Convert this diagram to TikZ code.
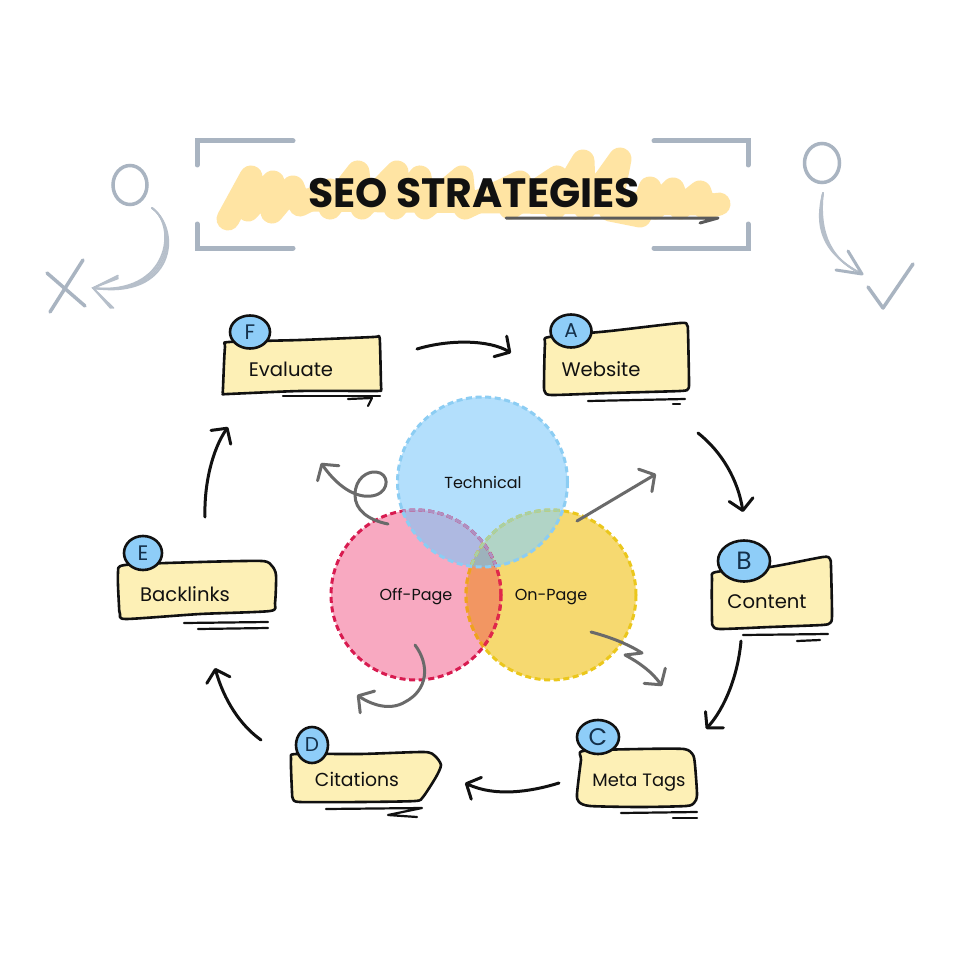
\documentclass[tikz,border=0pt]{standalone}
\usepackage{fontspec}
\setmainfont{Poppins}
\usetikzlibrary{arrows.meta,shapes.geometric}
\definecolor{inkc}{HTML}{111111}
\definecolor{greyc}{HTML}{6A6A6A}
\definecolor{slatec}{HTML}{A9B4C1}
\definecolor{boxc}{HTML}{FDF0B6}
\definecolor{badgec}{HTML}{8ECDF8}
\definecolor{badgetx}{HTML}{14304A}
\definecolor{scribc}{HTML}{FFE4A3}
\definecolor{bluef}{HTML}{B3DFFC}
\definecolor{pinkf}{HTML}{F8A9C1}
\definecolor{yelf}{HTML}{F6D970}
\definecolor{bpf}{HTML}{AEB9E1}
\definecolor{byf}{HTML}{B1D4C6}
\definecolor{pyf}{HTML}{F29662}
\definecolor{allf}{HTML}{9DB2BC}
\definecolor{lineyel}{HTML}{EBC71C}
\definecolor{linepink}{HTML}{D81B50}
\definecolor{lineorange}{HTML}{F0A020}
\definecolor{linered}{HTML}{E0284A}
\definecolor{linepurple}{HTML}{AF90C2}
\definecolor{linegreen}{HTML}{A8D0A4}
\definecolor{lineblue}{HTML}{8CCDF3}
\tikzset{
 x=1pt,y=-1pt,
 boxshape/.style={draw=inkc,fill=boxc,line width=2.6pt,line join=round},
 badge/.style={ellipse,draw=inkc,fill=badgec,line width=2.6pt,inner sep=0pt,text=badgetx},
 boxtext/.style={text=inkc,inner sep=0pt,anchor=base,font=\fontsize{19.6}{22}\selectfont},
 venntext/.style={text=inkc,inner sep=0pt,anchor=base,font=\fontsize{16}{18}\selectfont},
 underl/.style={draw=inkc,line width=2.2pt,line cap=round,line join=round},
 flowarrow/.style={draw=inkc,line width=3pt,line cap=round,-{Straight Barb[length=11pt,width=24pt,round]}},
 greyarrow/.style={draw=greyc,line width=3pt,line cap=round,line join=round,-{Straight Barb[length=11pt,width=26pt,round]}},
 bracket/.style={draw=slatec,line width=5pt,line cap=round,line join=miter},
 sketch/.style={draw=slatec,line width=3.5pt,line cap=round,line join=round},
 vdash/.style={line width=3pt,dash pattern=on 6pt off 3.6pt},
}
\begin{document}
\begin{tikzpicture}
\useasboundingbox (0,0) rectangle (960,960);
\fill[white] (0,0) rectangle (960,960);

% title scribble
\draw[scribc,line width=23pt,line cap=round,line join=round]
 (228,219) -- (251,177) -- (248,210) -- (273,182) -- (272,212) -- (293,187) -- (300,205) -- (330,190) -- (330,208) -- (358,172) -- (362,208) -- (397,172) -- (395,208) -- (420,177) -- (425,208) -- (462,177) -- (465,208) -- (520,182) -- (510,208) -- (557,177) -- (555,208) -- (583,161) -- (585,208) -- (620,159) -- (610,210) -- (640,216) -- (650,188) -- (655,208) -- (673,189) -- (680,208) -- (700,192) -- (705,208) -- (719,204);
\draw[scribc,line width=23pt,line cap=round] (300,200) -- (710,204);
\node[inner sep=0pt,anchor=base,text=inkc,font=\bfseries\fontsize{41}{46}\selectfont] (title) at (474,207) {SEO STRATEGIES};
\coordinate (ulS) at (506,218); \coordinate (ulE) at (718,218); \coordinate (ulB) at (700,223);
\draw[draw=greyc!85!black,line width=3pt,line cap=round,line join=round] (ulS) -- (ulE) -- (ulB);

% brackets
\draw[bracket] (293,141) -- (197,141) -- (197,165);
\draw[bracket] (197,224) -- (197,248) -- (293,248);
\draw[bracket] (654,141) -- (748,141) -- (748,165);
\draw[bracket] (748,224) -- (748,248) -- (654,248);

% left sketch
\node[ellipse,draw=slatec,line width=3.5pt,minimum width=34pt,minimum height=39pt,inner sep=0pt] (leftO) at (130,185) {};
\coordinate (laS) at (152,208); \coordinate (laE) at (93,288);
\foreach \o in {-2.4,-0.8,0.8,2.4}{
 \draw[slatec!85,line width=1.7pt,line cap=round] (laS) .. controls (180+\o,228+\o) and (172+\o,298+\o) .. (laE);}
\foreach \o in {-1.5,0,1.5}{
 \draw[slatec!85,line width=1.6pt,line cap=round] (118,277+\o) -- (laE) -- (112+\o,308);}
\draw[sketch] (47,273) -- (85,306);
\draw[sketch] (83,260) -- (50,312);

% right sketch
\node[ellipse,draw=slatec,line width=3.5pt,minimum width=35pt,minimum height=39pt,inner sep=0pt] (rightO) at (822,163) {};
\coordinate (raS) at (823,193); \coordinate (raE) at (862,274);
\coordinate (raB1) at (848,251); \coordinate (raB2) at (836,270);
\foreach \o in {-2.4,-0.8,0.8,2.4}{
 \draw[slatec!85,line width=1.7pt,line cap=round] (raS) .. controls (817+\o,225) and (823+\o,255+\o) .. (raE);}
\draw[sketch,line width=3pt] (raB1) -- (raE) -- (raB2);
\draw[sketch] (868,287) -- (883,308) -- (913,264);

% venn
\def\tecC{(482.5,482) circle [radius=85]}
\def\offC{(416,595) circle [radius=85]}
\def\onC{(551,595) circle [radius=85]}
\fill[bluef] \tecC;
\fill[yelf] \onC;
\fill[pinkf] \offC;
\begin{scope}\clip \tecC; \fill[bpf] \offC; \fill[byf] \onC; \end{scope}
\begin{scope}\clip \offC; \fill[pyf] \onC; \end{scope}
\begin{scope}\clip \tecC; \clip \offC; \fill[allf] \onC; \end{scope}
\draw[vdash,draw=lineyel] \onC;
\draw[vdash,draw=linepink] \offC;
\begin{scope}\clip \offC; \draw[vdash,draw=lineorange] \onC; \end{scope}
\begin{scope}\clip \onC; \draw[vdash,draw=linered] \offC; \end{scope}
\begin{scope}\clip \tecC; \draw[vdash,draw=linepurple] \offC; \draw[vdash,draw=linegreen] \onC; \end{scope}
\draw[vdash,draw=lineblue] \tecC;
\node[venntext] (tech) at (483,488) {Technical};
\node[venntext] (off) at (416,600) {Off-Page};
\node[venntext] (on) at (551,600) {On-Page};

% grey arrows
\coordinate (g1S) at (388,524); \coordinate (g1E) at (321,463);
\draw[greyarrow] (g1S) .. controls (368,520) and (355,510) .. (355,495) .. controls (355,478) and (368,471) .. (376,472) .. controls (389,473) and (390,490) .. (376,495) .. controls (360,500) and (340,490) .. (g1E);
\coordinate (g2S) at (577,521); \coordinate (g2E) at (656,474);
\draw[greyarrow] (g2S) -- (g2E);
\coordinate (g3S) at (591,632); \coordinate (g3M) at (642,653); \coordinate (g3N) at (625,655); \coordinate (g3E) at (662,686);
\draw[greyarrow] (g3S) .. controls (610,637) and (628,644) .. (g3M) -- (g3N) .. controls (640,663) and (652,672) .. (g3E);
\coordinate (g4S) at (415,645); \coordinate (g4E) at (357,695);
\draw[greyarrow] (g4S) .. controls (430,665) and (428,690) .. (405,702) .. controls (390,711) and (372,705) .. (g4E);

% boxes
\draw[boxshape] plot[smooth cycle,tension=0.4] coordinates {(225,347) (229,342) (300,340) (373,337) (379,336) (380,344) (381,385) (381,390) (375,391) (300,391) (228,394) (223,394) (223,388)};
\node[boxtext] (evaluate) at (291,376) {Evaluate};
\node[badge,minimum width=40pt,minimum height=33pt,font=\fontsize{21}{24}\selectfont] (bF) at (250,332) {F};
\draw[underl] (283,396) -- (380,396);
\draw[underl] (348,399) -- (372,398) -- (368,406);

\draw[boxshape] plot[smooth cycle,tension=0.4] coordinates {(545,344) (549,337) (610,331) (680,323) (687,325) (688,332) (689,382) (688,389) (680,391) (610,393) (552,395) (545,392) (544,385)};
\node[boxtext] (website) at (601,376) {Website};
\node[badge,minimum width=41pt,minimum height=33pt,font=\fontsize{20}{24}\selectfont] (bA) at (571,331) {A};
\draw[underl] (588,401) -- (685,399);
\draw[underl] (673,404) -- (680,404);

\draw[boxshape] plot[smooth cycle,tension=0.4] coordinates {(712,580) (716,572) (770,567) (823,557) (830,559) (831,567) (832,616) (830,623) (822,625) (770,627) (720,629) (713,626) (712,620)};
\node[boxtext] (content) at (767,608) {Content};
\node[badge,minimum width=52pt,minimum height=41pt,font=\fontsize{25}{28}\selectfont] (bB) at (744,561) {B};
\draw[underl] (743,635) -- (828,634);
\draw[underl] (797,641) -- (820,640);

\draw[boxshape] plot[smooth cycle,tension=0.4] coordinates {(581,760) (583,751) (640,749) (684,749) (693,755) (695,765) (697,795) (694,803) (686,806) (640,807) (590,806) (579,802) (577,794)};
\node[boxtext,font=\fontsize{17.9}{22}\selectfont] (meta) at (639,786) {Meta Tags};
\node[badge,minimum width=42pt,minimum height=34pt,font=\fontsize{24}{26}\selectfont] (bC) at (598,737) {C};
\draw[underl] (621,813) -- (697,812);
\draw[underl] (673,818) -- (697,818);

\draw[boxshape] plot[smooth cycle,tension=0.4] coordinates {(291,759) (296,754) (360,754) (424,752) (435,756) (441,765) (436,777) (423,797) (415,801) (360,802) (300,802) (293,799) (292,792)};
\node[boxtext,font=\fontsize{18.8}{22}\selectfont] (citations) at (357,786) {Citations};
\node[badge,minimum width=32pt,minimum height=36pt,font=\fontsize{20}{24}\selectfont] (bD) at (312,745) {D};
\draw[underl] (326,809) -- (422,808) -- (388,815) -- (417,817);

\draw[boxshape] plot[smooth cycle,tension=0.4] coordinates {(118,573) (125,565) (200,562) (262,561) (272,566) (276,575) (275,603) (270,611) (200,614) (126,619) (120,614) (119,606)};
\node[boxtext] (backlinks) at (185,601) {Backlinks};
\node[badge,minimum width=38pt,minimum height=34pt,font=\fontsize{21}{24}\selectfont] (bE) at (143,553) {E};
\draw[underl] (184,623) -- (268,622);
\draw[underl] (198,629) -- (268,628);

% flow arrows
\coordinate (fa1) at (417,349); \coordinate (fa2) at (511,353);
\draw[flowarrow] (fa1) .. controls (450,339) and (490,340) .. (fa2);
\coordinate (ab1) at (698,433); \coordinate (ab2) at (743,512);
\draw[flowarrow] (ab1) .. controls (722,452) and (738,480) .. (ab2);
\coordinate (bc1) at (741,641); \coordinate (bc2) at (706,729);
\draw[flowarrow] (bc1) .. controls (738,675) and (725,708) .. (bc2);
\coordinate (cd1) at (559,783); \coordinate (cd2) at (465,783);
\draw[flowarrow] (cd1) .. controls (530,792) and (495,797) .. (cd2);
\coordinate (de1) at (261,740); \coordinate (de2) at (215,668);
\draw[flowarrow] (de1) .. controls (240,725) and (224,700) .. (de2);
\coordinate (ef1) at (205,517); \coordinate (ef2) at (228,427);
\draw[flowarrow] (ef1) .. controls (204,485) and (212,450) .. (ef2);
\end{tikzpicture}
\end{document}
